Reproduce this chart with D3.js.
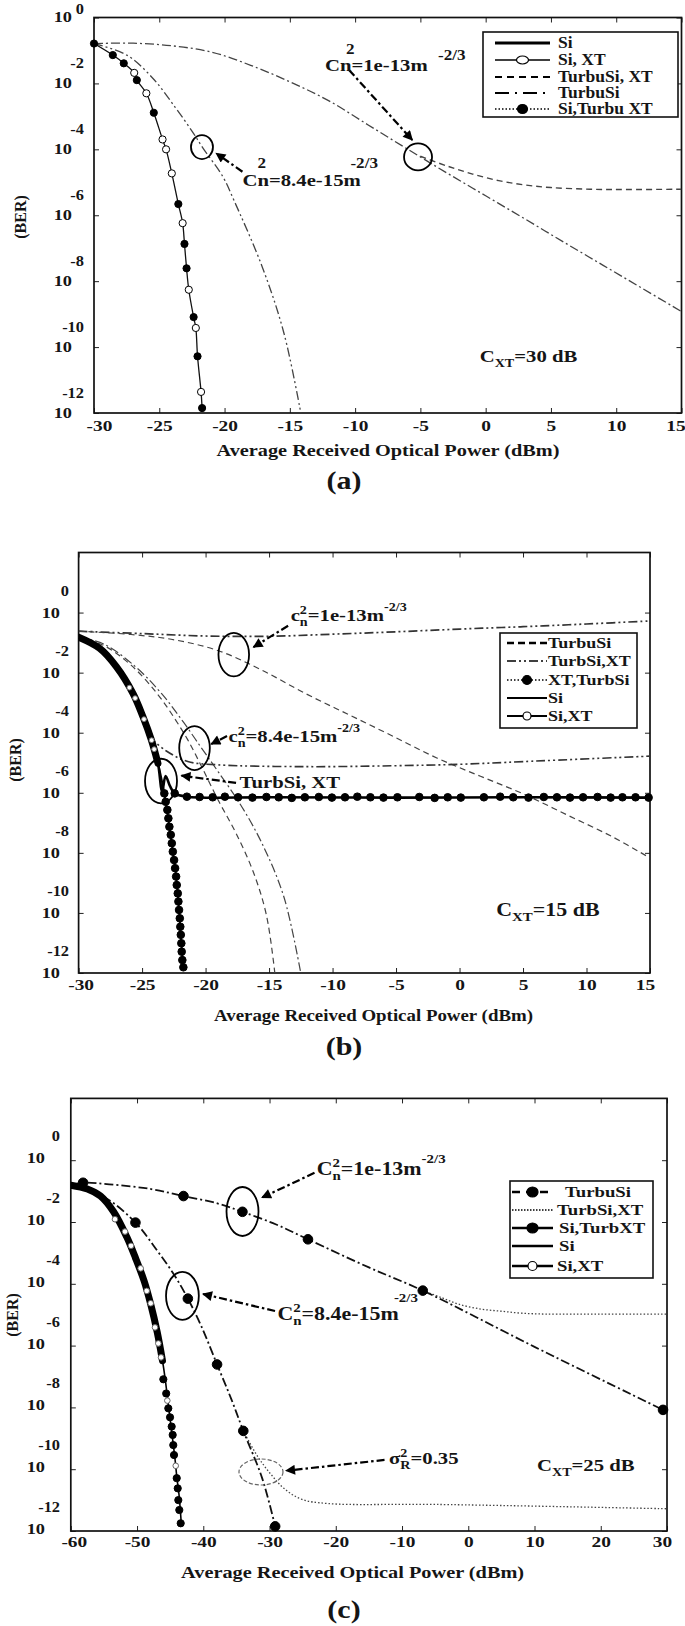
<!DOCTYPE html>
<html>
<head>
<meta charset="utf-8">
<script src="https://cdn.jsdelivr.net/npm/d3@7"></script>
<style>
body { margin: 0; background: #fff; }
svg text { font-family: "Liberation Serif", "Times New Roman", serif; font-weight: bold; fill: #151515; }
</style>
</head>
<body>
<svg></svg>
<script>
// BER values are stored as log10(BER)

// ---- panel (a), C_XT = 30 dB ----
var ticksA = [-30, -25, -20, -15, -10, -5, 0, 5, 10, 15];
var siPowerA = [-30, -28.56, -27.72, -26.92, -26.72, -25.99, -25.42, -24.75, -24.48, -24.04, -23.54, -23.21, -23.07, -22.91, -22.74, -22.37, -22.20, -22.07, -21.80, -21.72];
var siBerA = [-0.79, -1.14, -1.39, -1.68, -1.90, -2.30, -2.89, -3.70, -4.00, -4.73, -5.66, -6.24, -6.87, -7.61, -8.26, -9.09, -9.42, -10.28, -11.36, -11.85];
var siXtPowerA = [-26.92, -25.99, -24.75, -24.48, -24.04, -23.21, -22.74, -22.20, -21.80];
var siXtBerA = [-1.68, -2.30, -3.70, -4.00, -4.73, -6.24, -8.26, -9.42, -11.36];
var siTurbXtPowerA = [-30, -28.56, -27.72, -26.72, -25.42, -23.54, -23.07, -22.91, -22.37, -22.07, -21.72];
var siTurbXtBerA = [-0.79, -1.14, -1.39, -1.90, -2.89, -5.66, -6.87, -7.61, -9.09, -10.28, -11.85];
var turbLowPowerA = [-30, -27.49, -25.48, -23.81, -22.47, -21.64, -20.13, -19.29, -17.12, -15.45, -14.11];
var turbLowBerA = [-0.79, -1.14, -1.85, -2.71, -3.46, -3.97, -4.83, -5.54, -7.56, -9.58, -12.1];
var turbHighPowerA = [-30, -27, -24, -21, -18, -15, -12, -9, -6, -3, 0, 3, 6, 9, 12, 15];
var turbHighBerA = [-0.79, -0.78, -0.86, -1.05, -1.45, -1.95, -2.53, -3.26, -3.99, -4.71, -5.41, -6.11, -6.82, -7.52, -8.22, -8.92];
var turbXtHighPowerA = [-5, -3, -1, 1, 3, 5, 8, 11, 15];
var turbXtHighBerA = [-4.21, -4.50, -4.75, -4.95, -5.08, -5.16, -5.21, -5.22, -5.21];

// ---- panel (b), C_XT = 15 dB ----
var ticksB = [-30, -25, -20, -15, -10, -5, 0, 5, 10, 15];
var siPowerB = [-30, -28.35, -27.03, -25.72, -24.93, -24.27, -23.75, -23.35, -23.14, -22.85, -22.58, -22.32, -22.09, -21.91, -21.75];
var siBerB = [-0.82, -1.19, -1.80, -2.69, -3.47, -4.24, -5.02, -5.80, -6.30, -7.13, -7.96, -8.79, -9.90, -11.01, -11.81];
var siXtPowerB = [-26.0, -25.55, -24.85, -24.25, -24.05];
var siXtBerB = [-2.50, -2.85, -3.55, -4.25, -4.55];
var siDotPowerB = [-23.25, -23.14, -23.01, -22.93, -22.85, -22.74, -22.66, -22.58, -22.48, -22.40, -22.32, -22.27, -22.19, -22.14, -22.09, -22.03, -21.99, -21.95, -21.91, -21.88, -21.83, -21.75];
var siDotBerB = [-6.02, -6.30, -6.57, -6.85, -7.13, -7.40, -7.68, -7.96, -8.24, -8.51, -8.79, -9.07, -9.35, -9.62, -9.90, -10.18, -10.46, -10.73, -11.01, -11.29, -11.57, -11.81];
var xtTurbPowerB = [-30, -28.35, -27.03, -25.72, -24.93, -24.27, -23.75, -23.42, -23.15, -22.8, -22.43, -21.47, -15, -5, 5, 15];
var xtTurbBerB = [-0.82, -1.19, -1.80, -2.69, -3.47, -4.24, -5.02, -5.95, -5.44, -5.78, -6.02, -6.13, -6.15, -6.16, -6.15, -6.16];
var xtTurbDotPowerB = [-22.43, -21.47, -20.47, -19.44, -18.48, -17.44, -16.31, -15.21, -14.24, -13.21, -12.18, -11.08, -10.05, -9.02, -8.05, -7.02, -5.99, -4.89, -3.17, -1.96, -0.93, 0.10, 1.92, 3.20, 4.23, 5.43, 6.64, 7.67, 8.70, 9.73, 10.87, 11.90, 12.83, 13.86, 14.89];
var xtTurbDotBerB = [-6.02, -6.13, -6.14, -6.15, -6.13, -6.15, -6.16, -6.14, -6.15, -6.17, -6.15, -6.14, -6.16, -6.15, -6.13, -6.15, -6.16, -6.15, -6.14, -6.17, -6.15, -6.16, -6.15, -6.13, -6.15, -6.16, -6.14, -6.15, -6.16, -6.15, -6.14, -6.16, -6.15, -6.15, -6.16];
var turbHighPowerB = [-30, -25.87, -22.43, -18.99, -15.55, -12.11, -8.67, -5.23, -1.79, 1.65, 5.09, 8.53, 11.97, 15];
var turbHighBerB = [-0.62, -0.73, -0.91, -1.27, -1.92, -2.70, -3.41, -4.12, -4.84, -5.45, -6.05, -6.75, -7.45, -8.17];
var turbXtHighPowerB = [-30, -25, -20, -15, -10, -5, 0, 5, 10, 15];
var turbXtHighBerB = [-0.62, -0.70, -0.78, -0.79, -0.72, -0.64, -0.55, -0.47, -0.38, -0.28];
var turbLowPowerB = [-30, -28, -25.87, -23.81, -22.43, -21.40, -20.37, -18.99, -17.62, -16.24, -15.21, -14.52];
var turbLowBerB = [-0.82, -1.10, -1.75, -2.70, -3.53, -4.24, -5.08, -6.26, -7.33, -8.64, -10.07, -12.1];
var turbXtLowPowerB = [-30, -28, -25.53, -23.46, -21.74, -20.37, -18.99, -17.27, -15.55, -13.83, -12.46];
var turbXtLowBerB = [-0.82, -1.05, -1.80, -2.70, -3.65, -4.48, -5.31, -6.38, -7.69, -9.47, -12.1];
var turbXtFloorPowerB = [-24.5, -23.12, -21.40, -18.99, -12.11, -5.23, 0.1, 5.09, 15];
var turbXtFloorBerB = [-4.12, -4.60, -4.96, -5.07, -5.13, -5.10, -5.05, -4.96, -4.78];

// ---- panel (c), C_XT = 25 dB ----
var ticksC = [-60, -50, -40, -30, -20, -10, 0, 10, 20, 30];
var siPowerC = [-60, -57.5, -55.52, -53.54, -51.56, -50.24, -48.93, -47.94, -46.95, -46.16, -45.76, -45.30, -44.77, -44.31, -43.98, -43.65, -43.32];
var siBerC = [-0.81, -0.93, -1.16, -1.67, -2.48, -3.16, -3.91, -4.66, -5.57, -6.49, -7.07, -7.87, -8.79, -9.59, -10.28, -10.85, -11.77];
var siXtPowerC = [-53.33, -51.82, -50.91, -49.45, -48.54, -47.94, -47.29, -46.79, -46.38, -45.43, -44.16];
var siXtBerC = [-1.91, -2.31, -2.77, -3.50, -4.23, -4.63, -5.41, -5.93, -6.38, -7.78, -9.89];
var siTurbXtPowerC = [-46.03, -45.6, -45.28, -45.02, -44.77, -44.62, -44.53, -44.42, -44.01, -43.86, -43.77, -43.62, -43.41];
var siTurbXtBerC = [-7.09, -7.55, -8.03, -8.32, -8.62, -8.89, -9.22, -9.54, -10.29, -10.62, -11.0, -11.32, -11.75];
var turbHighPowerC = [-60, -58.15, -54.2, -48, -42.99, -38, -34.09, -29, -24.20, -15, -6.87, 10, 29.4];
var turbHighBerC = [-0.81, -0.73, -0.78, -0.93, -1.16, -1.39, -1.67, -2.08, -2.56, -3.47, -4.22, -6.04, -8.08];
var turbHighDotPowerC = [-58.15, -42.99, -34.09, -24.20, -6.87, 29.4];
var turbHighDotBerC = [-0.73, -1.16, -1.67, -2.56, -4.22, -8.08];
var turbXtHighPowerC = [-6.87, -4, -1.46, 2, 5.13, 8, 11.72, 20, 30];
var turbXtHighBerC = [-4.22, -4.45, -4.66, -4.82, -4.89, -4.95, -4.98, -4.98, -4.98];
var turbLowPowerC = [-60, -54.86, -50.24, -46.95, -44.31, -42.33, -40.36, -37.92, -35.74, -33.96, -31.13, -29.15];
var turbLowBerC = [-0.81, -1.21, -2.02, -2.93, -3.74, -4.48, -5.34, -6.61, -7.75, -8.76, -10.28, -11.85];
var turbLowDotPowerC = [-50.24, -42.33, -37.92, -33.96, -29.15];
var turbLowDotBerC = [-2.02, -4.48, -6.61, -8.76, -11.85];
var turbXtLowPowerC = [-33.96, -31.79, -29.81, -27.83, -25.19, -21.24, -4.76, 30];
var turbXtLowBerC = [-8.76, -9.59, -10.16, -10.62, -10.97, -11.11, -11.14, -11.28];

var berExps = [0, -2, -4, -6, -8, -10, -12];

var DASHED = "6,4", DASHDOT = "9,3,2,3", DASHDOTDOT = "9,3,2,3,2,3", DOTTED = "1.5,2", ARROWDASH = "8,3,2.5,3";
var WIDE = 1.22;   // the source figure is stretched sideways

var svg = d3.select("svg").attr("width", 685).attr("height", 1626);

svg.append("defs").append("marker")
    .attr("id", "arrowhead")
    .attr("viewBox", "0 0 10 10")
    .attr("refX", 9).attr("refY", 5)
    .attr("markerUnits", "userSpaceOnUse")
    .attr("markerWidth", 12).attr("markerHeight", 10)
    .attr("orient", "auto")
    .append("path").attr("d", "M0,0L10,5L0,10z").attr("fill", "#000");

function zip(xs, es) {
    return xs.map(function (v, i) { return [v, es[i]]; });
}

// stretch texts sideways around their own anchor point
function widen(sel, s) {
    sel.each(function () {
        var t = d3.select(this);
        var x = +t.attr("x") || 0, y = +t.attr("y") || 0;
        t.attr("transform", "translate(" + x + "," + y + ") scale(" + s + ",1) translate(" + (-x) + "," + (-y) + ")");
    });
}

function makePanel(cfg) {
    var g = svg.append("g");
    var x = d3.scaleLinear().domain(cfg.xDomain).range([cfg.left, cfg.right]);
    var y = d3.scaleLog().domain([1e-12, cfg.yTop]).range([cfg.bottom, cfg.top]);
    var Y = function (e) { return y(Math.pow(10, e)); };

    g.append("clipPath").attr("id", "clip" + cfg.id).append("rect")
        .attr("x", cfg.left).attr("y", cfg.top)
        .attr("width", cfg.right - cfg.left).attr("height", cfg.bottom - cfg.top);

    var yTicks = berExps.map(function (e) { return Math.pow(10, e); });

    var bottom = g.append("g").attr("transform", "translate(0," + cfg.bottom + ")")
        .call(d3.axisBottom(x).tickValues(cfg.xTicks).tickSizeInner(-5).tickSizeOuter(0)
            .tickPadding(cfg.xPad).tickFormat(function (d) { return String(d); }));
    var n = cfg.xTicks.length;
    bottom.selectAll(".tick text")
        .style("font-size", "15.5px")
        .attr("x", function (d, i) { return i === 0 ? cfg.firstDx : (i === n - 1 ? cfg.lastDx : 0); })
        .call(widen, 1.25);
    g.append("g").attr("transform", "translate(0," + cfg.top + ")")
        .call(d3.axisTop(x).tickValues(cfg.xTicks).tickSizeInner(-5).tickSizeOuter(0).tickFormat(""));
    g.append("g").attr("transform", "translate(" + cfg.left + ",0)")
        .call(d3.axisLeft(y).tickValues(yTicks).tickSizeInner(-5).tickSizeOuter(0).tickFormat(""));
    g.append("g").attr("transform", "translate(" + cfg.right + ",0)")
        .call(d3.axisRight(y).tickValues(yTicks).tickSizeInner(-5).tickSizeOuter(0).tickFormat(""));
    g.selectAll(".domain").remove();
    g.selectAll(".tick line").attr("stroke", "#222");

    g.append("rect")
        .attr("x", cfg.left).attr("y", cfg.top)
        .attr("width", cfg.right - cfg.left).attr("height", cfg.bottom - cfg.top)
        .attr("fill", "none").attr("stroke", "#111").attr("stroke-width", 1.7);

    berExps.forEach(function (e) {
        var ty = Y(e);
        g.append("text").attr("x", cfg.tenX).attr("y", ty + cfg.tenDy)
            .attr("text-anchor", "end").style("font-size", "15px").text("10")
            .call(widen, WIDE);
        g.append("text").attr("x", cfg.expX).attr("y", Math.max(ty + cfg.expDy, 14))
            .attr("text-anchor", "end").style("font-size", "14px").text(String(e))
            .call(widen, 1.17);
    });

    g.append("text")
        .attr("transform", "translate(" + cfg.berX + "," + cfg.berY + ") rotate(-90)")
        .attr("text-anchor", "middle").attr("dy", "0.35em")
        .style("font-size", "16px").text("(BER)");

    g.append("text").attr("x", cfg.titleX).attr("y", cfg.titleY)
        .attr("text-anchor", "middle").style("font-size", "17px")
        .attr("textLength", cfg.titleLen).attr("lengthAdjust", "spacingAndGlyphs")
        .text("Average Received Optical Power (dBm)");

    g.append("text").attr("x", 344).attr("y", cfg.tagY)
        .attr("text-anchor", "middle").style("font-size", "25px").text(cfg.tag)
        .call(widen, 1.2);

    var plot = g.append("g").attr("clip-path", "url(#clip" + cfg.id + ")");
    return { g: g, plot: plot, x: x, Y: Y };
}

function drawLine(p, xs, es, st) {
    p.plot.append("path")
        .datum(zip(xs, es))
        .attr("fill", "none")
        .attr("stroke", st.color || "#000")
        .attr("stroke-width", st.width || 1.2)
        .attr("stroke-dasharray", st.dash || null)
        .attr("stroke-linecap", st.cap || "butt")
        .attr("stroke-linejoin", "round")
        .attr("d", d3.line()
            .x(function (d) { return p.x(d[0]); })
            .y(function (d) { return p.Y(d[1]); })
            .curve(d3.curveCatmullRom.alpha(0.5)));
}

function drawDots(p, xs, es, r, filled, stroke) {
    p.g.append("g").selectAll("circle")
        .data(zip(xs, es))
        .join("circle")
        .attr("cx", function (d) { return p.x(d[0]); })
        .attr("cy", function (d) { return p.Y(d[1]); })
        .attr("r", r)
        .attr("fill", filled ? "#000" : "#fff")
        .attr("stroke", stroke || "#000")
        .attr("stroke-width", 1);
}

function ellipse(p, a, dashed) {
    p.g.append("ellipse")
        .attr("cx", p.x(a[0])).attr("cy", p.Y(a[1]))
        .attr("rx", a[2]).attr("ry", a[3])
        .attr("fill", "none")
        .attr("stroke", dashed ? "#666" : "#000")
        .attr("stroke-width", dashed ? 1.2 : 1.8)
        .attr("stroke-dasharray", dashed ? "4,2" : null);
}

function arrow(p, a) {
    p.g.append("line")
        .attr("x1", p.x(a[0])).attr("y1", p.Y(a[1]))
        .attr("x2", p.x(a[2])).attr("y2", p.Y(a[3]))
        .attr("stroke", "#000").attr("stroke-width", 2.2)
        .attr("stroke-dasharray", ARROWDASH)
        .attr("marker-end", "url(#arrowhead)");
}

// text made of pieces: plain text, superscript, subscript or both stacked
function rich(parent, x0, y0, parts, size, s) {
    var g = parent.append("g")
        .attr("transform", "translate(" + x0 + ",0) scale(" + (s || WIDE) + ",1) translate(" + (-x0) + ",0)");
    var cx = x0;
    parts.forEach(function (pt) {
        if (pt.t) {
            var t = g.append("text").attr("x", cx).attr("y", y0).style("font-size", size + "px").text(pt.t);
            cx += t.node().getComputedTextLength();
        } else {
            var w = 0;
            var sx = cx + (pt.shift || 0);
            if (pt.sup) {
                var sp = g.append("text").attr("x", sx).attr("y", y0 - size * (pt.sub ? 0.42 : (pt.rise || 0.5)))
                    .style("font-size", (size * 0.68) + "px").text(pt.sup);
                w = Math.max(w, sp.node().getComputedTextLength());
            }
            if (pt.sub) {
                var sb = g.append("text").attr("x", sx).attr("y", y0 + size * 0.28)
                    .style("font-size", (size * 0.68) + "px").text(pt.sub);
                w = Math.max(w, sb.node().getComputedTextLength());
            }
            cx = sx + w;
        }
    });
}

function legend(g, box, rows, size, s) {
    g.append("rect").attr("x", box.x).attr("y", box.y).attr("width", box.w).attr("height", box.h)
        .attr("fill", "#fff").attr("stroke", "#111").attr("stroke-width", 1.6);
    rows.forEach(function (r) {
        g.append("line").attr("x1", box.s1).attr("x2", box.s2).attr("y1", r.y).attr("y2", r.y)
            .attr("stroke", "#000").attr("stroke-width", r.width)
            .attr("stroke-dasharray", r.dash || null);
        if (r.mark) {
            g.append("ellipse").attr("cx", (box.s1 + box.s2) / 2).attr("cy", r.y)
                .attr("rx", r.rx).attr("ry", r.ry)
                .attr("fill", r.mark === "filled" ? "#000" : "#fff")
                .attr("stroke", "#000").attr("stroke-width", 1.2);
        }
        g.append("text").attr("x", r.tx || box.tx).attr("y", r.y + 5)
            .style("font-size", size + "px").text(r.label)
            .call(widen, s);
    });
}

// ================= panel (a) =================
var pa = makePanel({
    id: "a", left: 94, right: 681.5, top: 17.5, bottom: 413, xDomain: [-30, 15], yTop: 1,
    xTicks: ticksA, xPad: 7, firstDx: 5, lastDx: -6, tenX: 72, expX: 84, tenDy: 5, expDy: -15,
    berX: 20, berY: 217, titleX: 388, titleY: 456, titleLen: 343, tag: "(a)", tagY: 489
});
drawLine(pa, turbHighPowerA, turbHighBerA, { color: "#444", width: 1.3, dash: DASHDOT });
drawLine(pa, turbXtHighPowerA, turbXtHighBerA, { color: "#444", width: 1.4, dash: DASHED });
drawLine(pa, turbLowPowerA, turbLowBerA, { color: "#444", width: 1.3, dash: DASHDOTDOT });
drawLine(pa, siPowerA, siBerA, { color: "#111", width: 1.3 });
drawDots(pa, siXtPowerA, siXtBerA, 3.6, false);
drawDots(pa, siTurbXtPowerA, siTurbXtBerA, 3.6, true);

ellipse(pa, [-21.73, -3.93, 11, 12]);
ellipse(pa, [-5.18, -4.23, 14, 13.5]);
arrow(pa, [-18.63, -4.68, -20.64, -4.12]);
arrow(pa, [-10.47, -1.59, -5.62, -3.72]);

(function () {
    var x1 = pa.x(-18.63), y1 = pa.Y(-5.11);
    pa.g.append("text").attr("x", x1).attr("y", y1).style("font-size", "17px").text("Cn=8.4e-15m").call(widen, WIDE);
    pa.g.append("text").attr("x", x1 + 15).attr("y", y1 - 18).style("font-size", "14px").text("2").call(widen, WIDE);
    pa.g.append("text").attr("x", x1 + 108).attr("y", y1 - 18).style("font-size", "14px").text("-2/3").call(widen, WIDE);
    var x2 = pa.x(-12.31), y2 = pa.Y(-1.62);
    pa.g.append("text").attr("x", x2).attr("y", y2).style("font-size", "17px").text("Cn=1e-13m").call(widen, WIDE);
    pa.g.append("text").attr("x", x2 + 21).attr("y", y2 - 17).style("font-size", "14px").text("2").call(widen, WIDE);
    pa.g.append("text").attr("x", x2 + 113).attr("y", y2 - 11).style("font-size", "14px").text("-2/3").call(widen, WIDE);
    rich(pa.g, pa.x(-0.46), pa.Y(-10.46), [{ t: "C" }, { sub: "XT" }, { t: "=30 dB" }], 17);
})();

legend(pa.g, { x: 483, y: 32, w: 195, h: 85, s1: 495, s2: 550, tx: 558 }, [
    { y: 43, width: 3, label: "Si" },
    { y: 60, width: 1.6, mark: "open", rx: 6, ry: 4, label: "Si, XT" },
    { y: 77, width: 2, dash: "7,5", label: "TurbuSi, XT" },
    { y: 93, width: 2, dash: "14,6,2,6", label: "TurbuSi" },
    { y: 109, width: 1.3, dash: "1.5,2", mark: "filled", rx: 5, ry: 4.5, label: "Si,Turbu XT" }
], 17, 1.03);

// ================= panel (b) =================
var pb = makePanel({
    id: "b", left: 78.6, right: 650, top: 552.5, bottom: 973, xDomain: [-30, 15], yTop: 100,
    xTicks: ticksB, xPad: 6, firstDx: 2, lastDx: -5, tenX: 60, expX: 69, tenDy: 5, expDy: -17,
    berX: 15, berY: 760, titleX: 373.5, titleY: 1021, titleLen: 319, tag: "(b)", tagY: 1055
});
drawLine(pb, turbXtHighPowerB, turbXtHighBerB, { color: "#333", width: 1.7, dash: DASHDOTDOT });
drawLine(pb, turbHighPowerB, turbHighBerB, { color: "#444", width: 1.2, dash: DASHED });
drawLine(pb, turbLowPowerB, turbLowBerB, { color: "#444", width: 1.2, dash: DASHED });
drawLine(pb, turbXtLowPowerB, turbXtLowBerB, { color: "#444", width: 1.2, dash: DASHDOT });
drawLine(pb, turbXtFloorPowerB, turbXtFloorBerB, { color: "#333", width: 1.6, dash: DASHDOTDOT });
drawLine(pb, siPowerB, siBerB, { color: "#000", width: 2 });
drawLine(pb, siPowerB.filter(function (v, i) { return siBerB[i] > -5.6; }),
    siBerB.filter(function (v) { return v > -5.6; }), { color: "#000", width: 7, cap: "round" });
drawLine(pb, xtTurbPowerB, xtTurbBerB, { color: "#000", width: 2.6 });
drawDots(pb, xtTurbDotPowerB, xtTurbDotBerB, 3.8, true);
drawDots(pb, siDotPowerB, siDotBerB, 3.8, true);
drawDots(pb, siXtPowerB, siXtBerB, 2.4, false, "#777");

ellipse(pb, [-17.78, -1.40, 15.3, 21.8]);
ellipse(pb, [-20.87, -4.51, 15.3, 22]);
ellipse(pb, [-23.51, -5.61, 16, 22.3]);
arrow(pb, [-13.50, -0.44, -16.23, -1.15]);
arrow(pb, [-18.31, -4.11, -19.55, -4.38]);
arrow(pb, [-17.6, -5.67, -21.9, -5.43]);
rich(pb.g, pb.x(-13.30), pb.Y(-0.28), [{ t: "c" }, { sub: "n", sup: "2" }, { t: "=1e-13m" }, { sup: "-2/3", rise: 0.6 }], 17);
rich(pb.g, pb.x(-18.2), pb.Y(-4.31), [{ t: "c" }, { sub: "n", sup: "2" }, { t: "=8.4e-15m" }, { sup: "-2/3", rise: 0.6 }], 17);
rich(pb.g, pb.x(-17.33), pb.Y(-5.84), [{ t: "TurbSi, XT" }], 17);
rich(pb.g, pb.x(2.89), pb.Y(-10.1), [{ t: "C" }, { sub: "XT" }, { t: "=15 dB" }], 18);

legend(pb.g, { x: 500, y: 633, w: 137, h: 95, s1: 507, s2: 547, tx: 548 }, [
    { y: 643, width: 2.5, dash: "7,4", label: "TurbuSi" },
    { y: 661, width: 1.4, dash: "9,3,2,3,2,3", label: "TurbSi,XT" },
    { y: 680, width: 1.3, dash: "1.5,2", mark: "filled", rx: 4.5, ry: 4.5, label: "XT,TurbSi" },
    { y: 698, width: 2.2, label: "Si" },
    { y: 716, width: 2.2, mark: "open", rx: 4, ry: 4, label: "Si,XT" }
], 15, 1.2);

// ================= panel (c) =================
var pc = makePanel({
    id: "c", left: 70.8, right: 667, top: 1098.4, bottom: 1531, xDomain: [-60, 30], yTop: 100,
    xTicks: ticksC, xPad: 5, firstDx: 3, lastDx: -5, tenX: 45, expX: 60, tenDy: 3, expDy: -19,
    berX: 12, berY: 1315, titleX: 352.6, titleY: 1578, titleLen: 343, tag: "(c)", tagY: 1618
});
drawLine(pc, turbXtHighPowerC, turbXtHighBerC, { color: "#444", width: 1.3, dash: DOTTED });
drawLine(pc, turbXtLowPowerC, turbXtLowBerC, { color: "#444", width: 1.3, dash: DOTTED });
drawLine(pc, turbHighPowerC, turbHighBerC, { color: "#111", width: 1.8, dash: DASHDOT });
drawLine(pc, turbLowPowerC, turbLowBerC, { color: "#111", width: 1.8, dash: DASHDOT });
drawLine(pc, siPowerC, siBerC, { color: "#000", width: 1.6 });
drawLine(pc, siPowerC.filter(function (v, i) { return siBerC[i] > -6.6; }),
    siBerC.filter(function (v) { return v > -6.6; }), { color: "#000", width: 7, cap: "round" });
drawDots(pc, siTurbXtPowerC, siTurbXtBerC, 3.6, true);
drawDots(pc, siXtPowerC, siXtBerC, 2.8, false, "#666");
drawDots(pc, turbHighDotPowerC, turbHighDotBerC, 4.8, true);
drawDots(pc, turbLowDotPowerC, turbLowDotBerC, 4.8, true);

ellipse(pc, [-34.08, -1.66, 16, 24.5]);
ellipse(pc, [-43.15, -4.39, 16.4, 24]);
ellipse(pc, [-31.29, -10.09, 22, 13], true);
arrow(pc, [-23.21, -0.41, -31.14, -1.21]);
arrow(pc, [-29.17, -4.88, -40.04, -4.33]);
arrow(pc, [-12.64, -9.70, -27.51, -10.05]);
rich(pc.g, pc.x(-22.88), pc.Y(-0.48), [{ t: "C" }, { sub: "n", sup: "2" }, { t: "=1e-13m" }, { sup: "-2/3", rise: 0.65 }], 18);
rich(pc.g, pc.x(-28.81), pc.Y(-5.17), [{ t: "C" }, { sub: "n", sup: "2" }, { t: "=8.4e-15m" }, { sup: "-2/3", rise: 1.0, shift: -4 }], 18);
rich(pc.g, pc.x(-11.96), pc.Y(-9.83), [{ t: "\u03c3" }, { sub: "R", sup: "2" }, { t: "=0.35" }], 17);
rich(pc.g, pc.x(10.38), pc.Y(-10.06), [{ t: "C" }, { sub: "XT" }, { t: "=25 dB" }], 17);

legend(pc.g, { x: 510, y: 1181, w: 143, h: 97, s1: 512, s2: 553, tx: 557 }, [
    { y: 1192, width: 2.5, dash: "8,6", mark: "filled", rx: 5.5, ry: 5, label: "TurbuSi", tx: 565 },
    { y: 1210, width: 1.4, dash: "1.5,1.5", label: "TurbSi,XT" },
    { y: 1228, width: 2.5, mark: "filled", rx: 5.5, ry: 5, label: "Si,TurbXT", tx: 559 },
    { y: 1246, width: 2.3, label: "Si", tx: 559 },
    { y: 1266, width: 2.3, mark: "open", rx: 4.5, ry: 4.5, label: "Si,XT" }
], 15, 1.25);
</script>
</body>
</html>
